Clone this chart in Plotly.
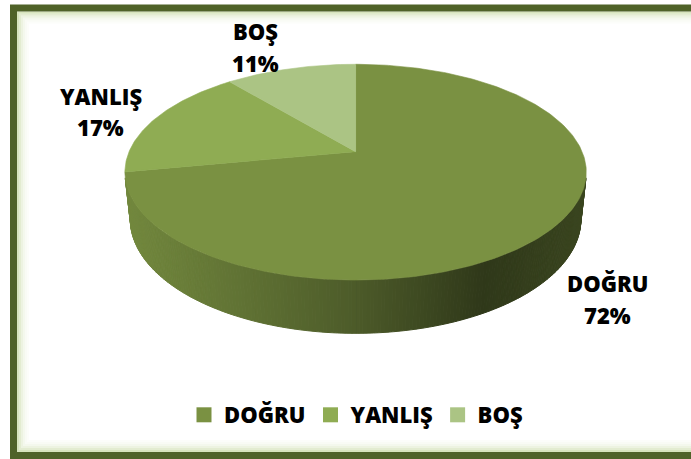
import numpy as np
import plotly.graph_objects as go

# ---------------- data ----------------
labels = ["DOĞRU", "YANLIŞ", "BOŞ"]
values = [72, 17, 11]
slice_colors = ["#7a9142", "#8fac53", "#abc484"]

# ---------------- style / layout ----------------
W, H = 691, 459
FONT = "Open Sans"
TEXT_SIZE = 22
TEXT_WEIGHT = 800
BORDER = "#4f6228"
# side shading factors relative to slice colour, by normalized screen x
side_shade = [(0.0, 0.94), (0.25, 0.79), (0.5, 0.63), (0.78, 0.39), (1.0, 0.48)]
# label block centres (pixel space) for the data labels
label_pos = [(607.5, 299.0), (100.5, 111.7), (255.5, 47.0)]
LINE_GAP = 31.5

# 3D perspective projection of the pie (pixel space)
CX, CY = 355.6, 151.7
FOC, DIST = 1061.2, 4.685
TILT = np.radians(27.33)
THICK = 0.2355
S, C = np.sin(TILT), np.cos(TILT)


def proj(theta, yw):
    X = np.sin(theta)
    Z = np.cos(theta)
    up = Z * S + yw * C
    depth = DIST + Z * C - yw * S
    return CX + FOC * X / depth, CY - FOC * up / depth


def hex2rgb(h):
    h = h.lstrip("#")
    return tuple(int(h[i:i + 2], 16) for i in (0, 2, 4))


def shade(hexcol, f):
    r, g, b = hex2rgb(hexcol)
    return "rgb(%d,%d,%d)" % (min(255, r * f), min(255, g * f), min(255, b * f))


def shade_at(t):
    for (t0, f0), (t1, f1) in zip(side_shade[:-1], side_shade[1:]):
        if t <= t1:
            u = (t - t0) / (t1 - t0) if t1 > t0 else 0
            return f0 + (f1 - f0) * u
    return side_shade[-1][1]


total = float(sum(values))
fracs = [v / total for v in values]
starts = np.concatenate([[0.0], np.cumsum(fracs)[:-1]]) * 2 * np.pi
ends = np.cumsum(fracs) * 2 * np.pi

fig = go.Figure()

# ---------- visible outer side (front) ----------
t_tan = np.arccos(-1.0 / (DIST * C))
vis_a, vis_b = t_tan, 2 * np.pi - t_tan
xa, _ = proj(np.array([vis_b]), 0.0)
xb, _ = proj(np.array([vis_a]), 0.0)
xmin, xmax = float(xa[0]), float(xb[0])

for i, (a, b) in enumerate(zip(starts, ends)):
    lo, hi = max(a, vis_a), min(b, vis_b)
    if hi <= lo:
        continue
    n = max(2, int(200 * (hi - lo) / (vis_b - vis_a)))
    th = np.linspace(lo, hi, n + 1)
    for k in range(n):
        t2 = np.array([th[k], th[k + 1]])
        tx, ty = proj(t2, 0.0)
        bx, by = proj(t2[::-1], -THICK)
        xs = list(tx) + list(bx) + [tx[0]]
        ys = list(ty) + list(by) + [ty[0]]
        mx = float(np.mean(tx))
        tt = (mx - xmin) / (xmax - xmin)
        col = shade(slice_colors[i], shade_at(min(1, max(0, tt))))
        fig.add_trace(go.Scatter(x=xs, y=ys, mode="lines", fill="toself",
                                 fillcolor=col, line=dict(color=col, width=1),
                                 hoverinfo="skip", showlegend=False))

# ---------- top faces ----------
for i, (a, b) in enumerate(zip(starts, ends)):
    n = max(8, int(400 * (b - a) / (2 * np.pi)))
    th = np.linspace(a, b, n + 1)
    px, py = proj(th, 0.0)
    xs = [CX] + list(px) + [CX]
    ys = [CY] + list(py) + [CY]
    fig.add_trace(go.Scatter(x=xs, y=ys, mode="lines", fill="toself",
                             fillcolor=slice_colors[i],
                             line=dict(color=slice_colors[i], width=0.6),
                             hoverinfo="skip", showlegend=False))

# ---------- legend entries ----------
for lab, col in zip(labels, slice_colors):
    fig.add_trace(go.Scatter(x=[None], y=[None], mode="markers", name=lab,
                             marker=dict(symbol="square", size=15, color=col)))

# ---------- data labels ----------
for lab, v, (lx, ly) in zip(labels, values, label_pos):
    pct = int(round(100 * v / total))
    for txt, dy in ((lab, -LINE_GAP / 2), ("%d%%" % pct, LINE_GAP / 2)):
        fig.add_annotation(x=lx, y=ly + dy, xref="x", yref="y", text=txt,
                           showarrow=False, xanchor="center", yanchor="middle",
                           font=dict(family=FONT, size=TEXT_SIZE, color="#000000",
                                     weight=TEXT_WEIGHT))

# ---------- frame with inner glow ----------
shapes = []
for j, alpha in enumerate([0.40, 0.28, 0.18, 0.11, 0.06, 0.03]):
    off = 3.5 + 2 * j + 1
    shapes.append(dict(type="rect", xref="x", yref="y",
                       x0=13.5 + off, y0=8 + off, x1=W + 20, y1=455.5 - off,
                       line=dict(color="rgba(155,187,89,%.2f)" % alpha, width=2),
                       layer="below"))
shapes.append(dict(type="rect", xref="x", yref="y", x0=13.5, y0=8, x1=W + 20, y1=455.5,
                   line=dict(color=BORDER, width=7), layer="below"))

fig.update_layout(
    width=W, height=H, autosize=False,
    margin=dict(l=0, r=0, t=0, b=0),
    paper_bgcolor="white", plot_bgcolor="white",
    xaxis=dict(range=[0, W], visible=False, fixedrange=True),
    yaxis=dict(range=[H, 0], visible=False, fixedrange=True),
    shapes=shapes,
    hovermode=False,
    showlegend=True,
    legend=dict(orientation="h", x=356 / W, y=1 - 415 / H, xanchor="center",
                yanchor="middle", bgcolor="rgba(0,0,0,0)", itemwidth=30,
                font=dict(family=FONT, size=TEXT_SIZE, color="#000000",
                          weight=TEXT_WEIGHT),
                itemclick=False, itemdoubleclick=False),
)

fig.write_html("out.html", config={"displayModeBar": False},
               post_script="document.body.style.margin='0';")
